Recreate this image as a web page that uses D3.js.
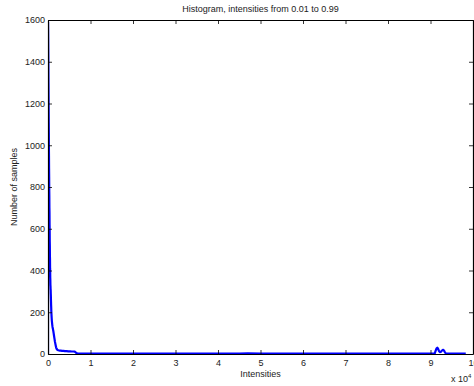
<!DOCTYPE html>
<html>
<head>
<meta charset="utf-8">
<script src="https://cdn.jsdelivr.net/npm/d3@7"></script>
<style>
  html, body { margin: 0; padding: 0; background: #fff; }
  svg { display: block; font-family: "Liberation Sans", Arial, sans-serif; }
</style>
</head>
<body>
<svg id="chart" width="474" height="386"></svg>
<script>
// Histogram of pixel intensities (counts per intensity bin)
const intensities = [
  0, 15, 30, 45, 60, 75, 90, 110, 130, 150, 170, 190, 210, 230, 250, 270, 290, 310,
  330, 350, 370, 390, 410, 430, 450, 470, 490, 510, 530, 550, 570, 590, 610, 630,
  650, 670, 690, 710, 730, 750, 780, 810, 840, 870, 900, 950, 1000, 1050, 1100,
  1175, 1250, 1325, 1400, 1475, 1550, 1625, 1700, 1800, 1900, 2000, 2100, 2200,
  2400, 2600, 2800, 3000, 3300, 3600, 4000, 4400, 4800, 5200, 5600, 6000, 6300,
  6500, 6700, 7000, 8000, 10000, 12000, 15000, 20000, 25000, 30000, 35000, 40000,
  45000, 47000, 50000, 55000, 60000, 65000, 70000, 75000, 80000, 85000, 88000,
  90000, 91000, 91200, 91400, 91600, 91800, 92000, 92200, 92400, 92600, 92800,
  93000, 93200, 93400, 93600, 94000, 95000, 97000, 98300
];
const counts = [
  0, 1590, 1560, 1520, 1470, 1430, 1380, 1300, 1240, 1170, 1110, 1060, 990, 950,
  890, 850, 790, 760, 700, 680, 620, 600, 540, 520, 470, 455, 410, 400, 365, 355,
  330, 325, 310, 308, 290, 280, 262, 250, 235, 225, 205, 192, 180, 170, 160, 150,
  140, 132, 126, 118, 110, 100, 90, 80, 70, 60, 52, 42, 32, 26, 22, 20,
  18, 17, 16, 16, 15, 15, 14, 14, 13, 13, 12, 12, 11,
  8, 4, 2, 2, 2, 2, 2, 2, 2, 2, 2, 2,
  2, 3, 2, 2, 2, 2, 2, 2, 2, 2, 2,
  2, 3, 15, 26, 30, 24, 14, 9, 10, 14, 18,
  20, 16, 8, 3, 2, 2, 2, 2
];

const xTicks = [0, 10000, 20000, 30000, 40000, 50000, 60000, 70000, 80000, 90000, 100000];
const yTicks = [0, 200, 400, 600, 800, 1000, 1200, 1400, 1600];

const titleText = "Histogram, intensities from 0.01 to 0.99";
const xLabel = "Intensities";
const yLabel = "Number of samples";

const svg = d3.select("#chart");
const margin = { left: 48, right: 1, top: 20, bottom: 32 };
const W = 474, H = 386;
const plotW = W - margin.left - margin.right;
const plotH = H - margin.top - margin.bottom;

const x = d3.scaleLinear().domain([0, 100000]).range([margin.left, margin.left + plotW]);
const y = d3.scaleLinear().domain([0, 1600]).range([margin.top + plotH, margin.top]);

const fontSize = 9;

// clip region for the plot
svg.append("defs").append("clipPath").attr("id", "clip")
  .append("rect")
  .attr("x", margin.left).attr("y", margin.top - 1)
  .attr("width", plotW).attr("height", plotH + 1);

// data line
const pts = intensities.map((v, i) => [v, counts[i]]);
svg.append("path")
  .datum(pts)
  .attr("clip-path", "url(#clip)")
  .attr("fill", "none")
  .attr("stroke", "#0000ff")
  .attr("stroke-width", 2.2)
  .attr("stroke-linejoin", "round")
  .attr("d", d3.line().x(d => x(d[0])).y(d => y(d[1])));

// axes (ticks point inward, mirrored on top/right)
const tickLen = 4;
const xAxisB = d3.axisBottom(x).tickValues(xTicks).tickSizeInner(-tickLen).tickSizeOuter(0)
  .tickFormat(d => d / 10000).tickPadding(6);
const xAxisT = d3.axisTop(x).tickValues(xTicks).tickSizeInner(-tickLen).tickSizeOuter(0).tickFormat("");
const yAxisL = d3.axisLeft(y).tickValues(yTicks).tickSizeInner(-tickLen).tickSizeOuter(0)
  .tickFormat(d3.format("d")).tickPadding(3);
const yAxisR = d3.axisRight(y).tickValues(yTicks).tickSizeInner(-tickLen).tickSizeOuter(0).tickFormat("");

function styleAxis(g) {
  g.select(".domain").attr("stroke", "#000").attr("stroke-width", 1.2);
  g.selectAll(".tick line").attr("stroke", "#000").attr("stroke-width", 0.8);
  g.selectAll("text").attr("fill", "#222").attr("font-size", fontSize)
    .attr("font-family", "Liberation Sans, Arial, sans-serif");
}

svg.append("g").attr("transform", `translate(0,${margin.top + plotH})`).call(xAxisB).call(styleAxis);
svg.append("g").attr("transform", `translate(0,${margin.top})`).call(xAxisT).call(styleAxis);
svg.append("g").attr("transform", `translate(${margin.left},0)`).call(yAxisL).call(styleAxis);
svg.append("g").attr("transform", `translate(${margin.left + plotW},0)`).call(yAxisR).call(styleAxis);

// title
svg.append("text")
  .attr("x", margin.left + plotW / 2).attr("y", 12)
  .attr("text-anchor", "middle").attr("font-size", fontSize).attr("fill", "#222")
  .text(titleText);

// x label
svg.append("text")
  .attr("x", margin.left + plotW / 2).attr("y", 377)
  .attr("text-anchor", "middle").attr("font-size", fontSize).attr("fill", "#222")
  .text(xLabel);

// exponent marker
const expo = svg.append("text")
  .attr("x", 451).attr("y", 382)
  .attr("font-size", fontSize).attr("fill", "#222");
expo.append("tspan").text("x 10");
expo.append("tspan").attr("dy", -4).attr("font-size", 6).text("4");

// y label
svg.append("text")
  .attr("transform", `translate(17,${margin.top + plotH / 2}) rotate(-90)`)
  .attr("text-anchor", "middle").attr("font-size", fontSize).attr("fill", "#222")
  .text(yLabel);
</script>
</body>
</html>
